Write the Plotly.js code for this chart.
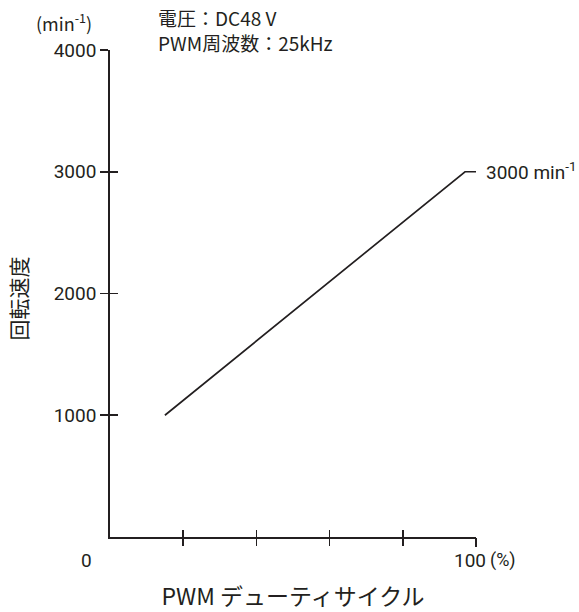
<!DOCTYPE html>
<html>
<head>
<meta charset="utf-8">
<script src="https://cdn.plot.ly/plotly-3.0.1.min.js"></script>
<style>html,body{margin:0;padding:0;background:#fff;}#chart{width:579px;height:612px;}</style>
</head>
<body>
<div id="chart"></div>
<script>
// data
const duty = [15, 97, 100];            // PWM duty cycle (%)
const speed = [1000, 3000, 3000];      // rotation speed (min^-1)
const xTickVals = [20, 40, 60, 80, 100];
const xLabelVals = [100];
const xLabelText = ['100'];
const yTickVals = [1000, 2000, 3000, 4000];
const yTickText = ['1000', '2000', '3000', '4000'];

const INK = '#231f20';
const NUM = 'Roboto, sans-serif';
const JP = 'Noto Sans CJK JP, sans-serif';

const traces = [
  {x: duty, y: speed, type: 'scatter', mode: 'lines',
   line: {color: INK, width: 1.7}, hoverinfo: 'skip', showlegend: false},
  {x: duty, y: speed, type: 'scatter', mode: 'lines', xaxis: 'x2', yaxis: 'y2',
   line: {color: 'rgba(0,0,0,0)', width: 0}, hoverinfo: 'skip', showlegend: false},
  {x: duty, y: speed, type: 'scatter', mode: 'lines', xaxis: 'x3', yaxis: 'y',
   line: {color: 'rgba(0,0,0,0)', width: 0}, hoverinfo: 'skip', showlegend: false}
];

const axCommon = {showgrid: false, zeroline: false, fixedrange: true};

const layout = {
  width: 579, height: 612,
  margin: {l: 110, r: 103, t: 50, b: 75},
  paper_bgcolor: '#fff', plot_bgcolor: '#fff',
  showlegend: false,
  xaxis: Object.assign({}, axCommon, {
    range: [0, 100], showline: true, linecolor: INK, linewidth: 1.8,
    tickmode: 'array', tickvals: xLabelVals, ticktext: xLabelText,
    ticks: 'outside', ticklen: 8, tickwidth: 1.6, tickcolor: INK,
    ticklabelshift: -6, ticklabelstandoff: -3,
    tickfont: {family: NUM, size: 19, color: INK},
    title: {text: 'PWM デューティサイクル', font: {family: JP, size: 23, color: INK}, standoff: 18}
  }),
  xaxis3: Object.assign({}, axCommon, {
    overlaying: 'x', anchor: 'y', side: 'bottom', range: [0, 100],
    tickmode: 'array', tickvals: xTickVals, showticklabels: false,
    ticks: 'outside', ticklen: 8, tickwidth: 1.6, tickcolor: INK, showline: false
  }),
  yaxis: Object.assign({}, axCommon, {
    range: [0, 4000], showline: true, linecolor: INK, linewidth: 1.8,
    tickmode: 'array', tickvals: yTickVals, ticktext: yTickText,
    ticks: 'outside', ticklen: 8, tickwidth: 1.6, tickcolor: INK,
    tickfont: {family: NUM, size: 19, color: INK}
  }),
  xaxis2: Object.assign({}, axCommon, {
    overlaying: 'x', anchor: 'y2', side: 'bottom', range: [0, 100],
    tickmode: 'array', tickvals: xTickVals, showticklabels: false,
    ticks: 'inside', ticklen: 7, tickwidth: 1.6, tickcolor: INK, showline: false
  }),
  yaxis2: Object.assign({}, axCommon, {
    overlaying: 'y', anchor: 'x2', side: 'left', range: [0, 4000],
    tickmode: 'array', tickvals: yTickVals, showticklabels: false,
    ticks: 'inside', ticklen: 8, tickwidth: 1.6, tickcolor: INK, showline: false
  }),
  annotations: [
    {text: '回転速度', xref: 'paper', yref: 'paper', x: -0.251, y: 0.49, textangle: -90,
     showarrow: false, font: {family: JP, size: 21, color: INK}, xanchor: 'center', yanchor: 'middle'},
    {text: '(min<sup>-1</sup>)', xref: 'paper', yref: 'paper', x: -0.126, y: 1.0, yshift: 28,
     showarrow: false, font: {family: JP, size: 18, color: INK}, xanchor: 'center', yanchor: 'middle'},
    {text: '電圧：DC48 V<br>PWM周波数：25kHz', xref: 'paper', yref: 'paper', x: 0.126, y: 1.0, yshift: 20,
     showarrow: false, align: 'left', font: {family: JP, size: 19, color: INK}, xanchor: 'left', yanchor: 'middle'},
    {text: '0', xref: 'x', yref: 'y', x: 0, y: 0, xshift: -24, yshift: -23,
     showarrow: false, font: {family: NUM, size: 19, color: INK}, xanchor: 'center', yanchor: 'middle'},
    {text: '(%)', xref: 'x', yref: 'y', x: 100, y: 0, xshift: 12, yshift: -23,
     showarrow: false, font: {family: NUM, size: 18, color: INK}, xanchor: 'left', yanchor: 'middle'},
    {text: '3000 min<sup>-1</sup>', xref: 'x', yref: 'y', x: duty[2], y: speed[2], xshift: 8,
     showarrow: false, font: {family: NUM, size: 19, color: INK}, xanchor: 'left', yanchor: 'middle'}
  ]
};

Plotly.newPlot('chart', traces, layout, {staticPlot: true, displayModeBar: false});
</script>
</body>
</html>
